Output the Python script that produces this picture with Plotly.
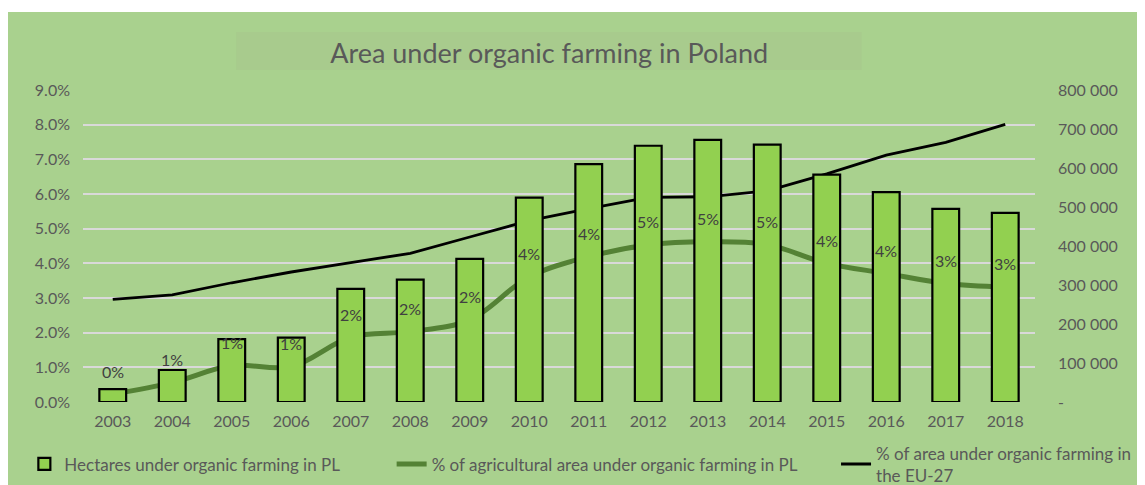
import plotly.graph_objects as go

years = ["2003", "2004", "2005", "2006", "2007", "2008", "2009", "2010",
         "2011", "2012", "2013", "2014", "2015", "2016", "2017", "2018"]

# hectares under organic farming in Poland
hectares = [33000, 82000, 161000, 165000, 290000, 314000, 367000, 524000,
            610000, 657000, 672000, 660000, 583000, 538000, 495000, 485000]

# % of agricultural area under organic farming in PL
pl_share = [0.23, 0.56, 1.05, 1.02, 1.87, 2.03, 2.37, 3.61,
            4.19, 4.53, 4.62, 4.54, 4.00, 3.71, 3.42, 3.32]

# % of area under organic farming in the EU-27
eu_share = [2.96, 3.09, 3.44, 3.75, 4.02, 4.29, 4.76, 5.23,
            5.58, 5.90, 5.92, 6.09, 6.58, 7.12, 7.49, 8.01]

left_ticks = [0, 1, 2, 3, 4, 5, 6, 7, 8, 9]
left_labels = ["0.0%", "1.0%", "2.0%", "3.0%", "4.0%", "5.0%", "6.0%", "7.0%", "8.0%", "9.0%"]
right_ticks = [0, 100000, 200000, 300000, 400000, 500000, 600000, 700000, 800000]
right_labels = ["-", "100 000", "200 000", "300 000", "400 000", "500 000", "600 000", "700 000", "800 000"]

bg = "#A9D18E"
grey = "#595959"
FONT = "Lato"

fig = go.Figure()

fig.add_trace(go.Bar(
    x=years, y=hectares, yaxis="y2", name="Hectares under organic farming in PL",
    marker=dict(color="#92D050", line=dict(color="black", width=2.2)),
    width=0.45, legend="legend",
))
fig.add_trace(go.Scatter(
    x=years, y=pl_share, mode="lines", line=dict(color="#548235", width=5, shape="spline", smoothing=1.0),
    name="% of agricultural area under organic farming in PL", legend="legend2",
))
fig.add_trace(go.Scatter(
    x=years, y=eu_share, mode="lines", line=dict(color="black", width=2.8),
    name="% of area under organic farming in<br>the EU-27", legend="legend3",
))

# data labels of the PL share line (x given as category index)
for i, v in enumerate(pl_share):
    fig.add_annotation(x=i, y=v, xref="x", yref="y", text=f"{round(v)}%", showarrow=False,
                       yshift=23, font=dict(family=FONT, size=16, color="#404040"))

# white strip on top + title box
fig.add_shape(type="rect", xref="paper", yref="paper", x0=-0.2, x1=1.3, y0=1.25, y1=1.3,
              fillcolor="white", line_width=0, layer="below")
fig.add_shape(type="rect", xref="paper", yref="paper", x0=0.1608, x1=0.818, y0=1.064, y1=1.186,
              fillcolor="#A8CB8D", line_width=0, layer="below")

legend_common = dict(orientation="h", bgcolor="rgba(0,0,0,0)", yanchor="middle",
                     font=dict(family=FONT, size=17, color=grey), itemwidth=30)

fig.update_layout(
    width=1137, height=477,
    paper_bgcolor=bg, plot_bgcolor=bg,
    margin=dict(l=75, r=110, t=82, b=83, autoexpand=False),
    font=dict(family=FONT, size=16, color=grey),
    title=dict(text="Area under organic farming in Poland", x=0.476, xanchor="center",
               y=0.905, yanchor="middle", font=dict(family=FONT, size=27, color=grey)),
    xaxis=dict(type="category", range=[-0.5, 15.5], showgrid=False, showline=False, ticks="",
               tickfont=dict(size=16, color=grey), ticklabelstandoff=8),
    yaxis=dict(range=[0, 9], tickvals=left_ticks, ticktext=left_labels, showgrid=True,
               gridcolor="#D9D9D9", gridwidth=2, zeroline=False, showline=False,
               tickfont=dict(size=16, color=grey), ticklabelstandoff=12),
    yaxis2=dict(range=[0, 800000], tickvals=right_ticks, ticktext=right_labels, overlaying="y",
                side="right", showgrid=False, zeroline=False, showline=False,
                tickfont=dict(size=16, color=grey), ticklabelstandoff=22),
    legend=dict(x=-0.0616, y=-0.2, xanchor="left", **legend_common),
    legend2=dict(x=0.3242, y=-0.2, xanchor="left", **legend_common),
    legend3=dict(x=0.791, y=-0.2, xanchor="left", **legend_common),
    showlegend=True,
)

fig.write_html("out.html")
